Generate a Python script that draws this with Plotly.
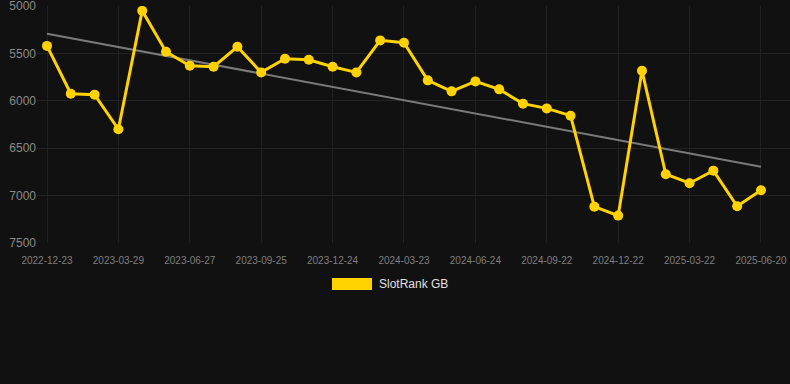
import numpy as np
import plotly.graph_objects as go

dates = ["2022-12-23", "2023-01-24", "2023-02-25", "2023-03-29", "2023-04-28", "2023-05-28",
         "2023-06-27", "2023-07-27", "2023-08-26", "2023-09-25", "2023-10-25", "2023-11-24",
         "2023-12-24", "2024-01-23", "2024-02-22", "2024-03-23", "2024-04-24", "2024-05-25",
         "2024-06-24", "2024-07-24", "2024-08-23", "2024-09-22", "2024-10-22", "2024-11-21",
         "2024-12-22", "2025-01-21", "2025-02-20", "2025-03-22", "2025-04-21", "2025-05-21",
         "2025-06-20"]
ranks = [5420, 5925, 5935, 6300, 5050, 5482, 5630, 5640, 5430, 5700, 5556, 5566,
         5640, 5700, 5362, 5387, 5784, 5900, 5795, 5879, 6030, 6080, 6157, 7117,
         7212, 5682, 6775, 6870, 6737, 7113, 6944]
tick_dates = dates[::3]
y_ticks = [5000, 5500, 6000, 6500, 7000, 7500]
series_name = "SlotRank GB"

idx = np.arange(len(ranks))
slope, intercept = np.polyfit(idx, ranks, 1)
trend = slope * idx + intercept

fig = go.Figure()
fig.add_trace(go.Scatter(
    x=dates, y=trend, mode="lines",
    line=dict(color="#7a7a7a", width=2), hoverinfo="skip", showlegend=False))
fig.add_trace(go.Scatter(
    x=dates, y=ranks, mode="lines+markers", name=series_name,
    line=dict(color="#FFD200", width=3),
    marker=dict(color="#FFD200", size=10), showlegend=False))

fig.update_layout(
    width=790, height=384,
    paper_bgcolor="#111111", plot_bgcolor="#111111",
    margin=dict(l=37, r=0, t=6, b=141),
    font=dict(family="Liberation Sans, Arial, sans-serif", color="#8a8a8a"),
    xaxis=dict(type="category", range=[-0.42, 31.22], tickmode="array",
               tickvals=tick_dates, ticktext=tick_dates,
               showgrid=True, gridcolor="#222222", gridwidth=1,
               zeroline=False, showline=False, ticks="",
               ticklabelstandoff=10, ticklabeloverflow="allow",
               tickfont=dict(size=10, color="#7f7f7f")),
    yaxis=dict(range=[7501, 4999], tickmode="array", tickvals=y_ticks,
               showgrid=True, gridcolor="#232323", gridwidth=1,
               zeroline=False, showline=False, ticks="",
               ticklabeloverflow="allow",
               tickfont=dict(size=12, color="#8a8a8a")),
    shapes=[dict(type="rect", xref="paper", yref="paper",
                 x0=(332 - 37) / 753, x1=(372 - 37) / 753,
                 y0=-(290 - 243) / 237, y1=-(278 - 243) / 237,
                 fillcolor="#FFD200", line=dict(width=0))],
    annotations=[dict(text=series_name, xref="paper", yref="paper",
                      x=(377 - 37) / 753, y=-(284 - 243) / 237,
                      xanchor="left", yanchor="middle", showarrow=False,
                      font=dict(size=12, color="#e0e0e0"))],
)

fig.write_html("out.html", config={"displayModeBar": False},
               post_script="document.body.style.margin='0';document.body.style.background='#111111';")
